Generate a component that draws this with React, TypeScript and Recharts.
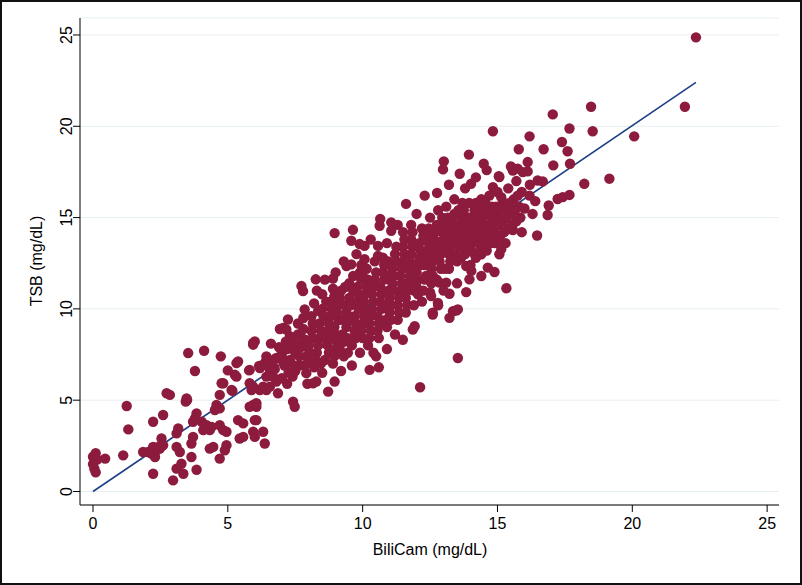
import { CartesianGrid, Label, Scatter, ScatterChart, XAxis, YAxis } from 'recharts'

const POINT_COLOUR = '#8c1b3e'
const LINE_COLOUR = '#1d3f86'
const GRID_COLOUR = '#e6eff0'
const FONT = '"Liberation Sans", Arial, Helvetica, sans-serif'

// BiliCam vs TSB readings, grouped by BiliCam range
const lowBand: [number, number][] = [
  [0.0, 1.9], [0.1, 2.1], [0.15, 1.75], [0.0, 1.5], [0.05, 1.25], [0.1, 1.05], [0.45, 1.8],
  [1.12, 1.98], [1.25, 4.68], [1.31, 3.4],
  [1.86, 2.16], [2.05, 2.16], [2.17, 2.07], [2.3, 1.89], [2.36, 2.26], [2.48, 2.35], [2.23, 2.44],
  [2.23, 0.97], [2.23, 3.82], [2.54, 2.9], [2.6, 2.53], [2.42, 2.44], [2.6, 4.19], [2.73, 5.38],
  [2.85, 5.29], [3.1, 2.44], [3.22, 2.16], [3.16, 3.45], [3.1, 3.18], [3.28, 1.52], [3.1, 1.25],
  [3.35, 0.97], [2.97, 0.61], [3.44, 4.92], [3.49, 5.01], [3.53, 7.58], [3.71, 2.99], [3.65, 2.63],
  [3.65, 1.89], [3.84, 1.19], [3.84, 4.28], [3.78, 4.0], [3.71, 3.82], [3.78, 6.6], [3.47, 5.1],
]

const band4to6: [number, number][] = [
  [4.12, 7.71], [4.74, 7.4], [4.03, 3.82], [4.21, 3.63], [4.4, 3.54], [4.09, 3.36], [4.33, 3.36],
  [4.7, 3.63], [4.83, 3.36], [4.95, 3.27], [4.33, 2.35], [4.46, 2.44], [4.95, 2.53], [4.89, 2.26],
  [4.7, 1.8], [4.58, 4.74], [4.7, 4.55], [4.52, 4.46], [4.83, 5.93], [4.77, 5.93], [4.7, 5.29],
  [5.0, 6.63], [5.26, 6.39], [5.32, 6.29], [5.38, 7.12], [5.32, 7.03], [5.14, 5.56], [5.17, 5.51],
  [5.79, 6.63], [5.81, 5.93], [5.88, 5.56], [5.94, 5.74], [5.94, 8.13], [6.0, 8.22], [5.94, 4.74],
  [6.06, 4.64], [5.38, 3.91], [6.0, 3.91], [5.44, 2.9], [5.94, 3.27], [6.0, 2.99], [5.57, 3.73],
  [5.57, 2.99], [5.81, 4.64], [5.94, 8.04], [5.81, 6.66],
]

const band6to8: [number, number][] = [
  [6.06, 4.83], [6.06, 3.91], [6.31, 3.27], [6.37, 2.63], [6.19, 5.56], [6.43, 5.56], [6.16, 6.88],
  [6.43, 7.4], [6.41, 7.12], [6.74, 7.25], [6.93, 8.9], [6.56, 6.66], [6.74, 6.7], [6.43, 6.29],
  [6.68, 6.29], [6.8, 6.02], [6.56, 5.74], [6.31, 5.74], [6.31, 6.94], [6.19, 6.76], [6.68, 6.85],
  [6.8, 7.31], [6.86, 5.38], [7.42, 4.92], [7.48, 4.64], [7.23, 9.42], [7.05, 8.96], [7.17, 8.87],
  [7.85, 9.97], [7.73, 11.25], [7.79, 10.97], [7.91, 6.48],
  [7.0, 7.5], [7.1, 6.9], [7.2, 7.8], [7.3, 7.2], [7.4, 8.2], [7.5, 7.6], [7.5, 6.6], [7.6, 8.6],
  [7.7, 7.9], [7.8, 8.9], [7.9, 7.4], [7.0, 6.2], [7.2, 5.9], [7.4, 6.3], [7.6, 9.2], [7.8, 9.5],
  [7.9, 8.3], [6.9, 7.9], [6.6, 8.1], [7.3, 8.5], [7.65, 6.9], [7.95, 5.9],
  [7.05, 7.1], [7.15, 8.2], [7.25, 6.5], [7.35, 7.9], [7.45, 6.9], [7.55, 8.0], [7.65, 7.4],
  [7.75, 8.4], [7.85, 6.9], [7.95, 7.9],
]

const band8to10: [number, number][] = [
  [8.26, 11.62], [8.9, 11.66], [8.96, 14.15], [9.64, 14.33], [8.16, 5.93], [8.28, 6.02], [8.72, 5.47],
  [8.96, 6.02], [9.4, 12.35], [9.58, 12.44], [9.58, 13.73], [9.89, 13.55], [9.77, 13.0],
  [8.0, 7.2], [8.0, 8.0], [8.1, 8.8], [8.1, 9.6], [8.2, 10.3], [8.2, 6.8], [8.3, 7.6], [8.4, 8.4],
  [8.4, 9.2], [8.5, 10.0], [8.5, 10.8], [8.5, 6.5], [8.6, 7.2], [8.7, 8.0], [8.7, 8.8], [8.8, 9.6],
  [8.8, 10.4], [8.9, 7.0], [8.9, 11.1], [9.0, 7.8], [9.0, 8.6], [9.1, 9.4], [9.1, 10.2], [9.2, 11.0],
  [9.2, 6.6], [9.3, 7.4], [9.3, 8.2], [9.4, 9.0], [9.4, 9.8], [9.5, 10.6], [9.5, 11.4], [9.6, 8.0],
  [9.6, 6.9], [9.7, 8.8], [9.7, 9.6], [9.8, 10.4], [9.8, 11.2], [9.9, 12.0], [9.9, 7.6], [10.0, 8.4],
  [10.0, 9.2], [8.3, 11.0], [8.6, 11.6], [9.0, 12.0], [9.3, 12.6],
  [8.05, 7.6], [8.15, 8.4], [8.15, 9.2], [8.25, 7.2], [8.35, 8.0], [8.35, 9.9], [8.45, 8.8],
  [8.45, 7.0], [8.55, 9.6], [8.6, 8.4], [8.65, 10.4], [8.75, 7.6], [8.75, 9.2], [8.85, 8.4],
  [8.85, 10.0], [8.95, 9.0], [8.95, 10.7], [8.95, 7.4], [9.05, 8.2], [9.05, 9.8], [9.15, 10.6],
  [9.15, 7.8], [9.25, 8.6], [9.25, 9.4], [9.35, 10.2], [9.35, 11.2], [9.45, 8.4], [9.45, 7.6],
  [9.55, 9.4], [9.55, 10.2], [9.65, 11.0], [9.65, 11.8], [9.75, 8.4], [9.75, 9.2], [9.85, 10.0],
  [9.85, 10.8], [9.95, 11.6], [9.95, 8.8], [9.95, 12.4],
]

const band10to12: [number, number][] = [
  [10.65, 14.92], [10.63, 14.55], [11.06, 14.74], [11.06, 14.28], [10.07, 13.45], [10.57, 13.45],
  [10.57, 12.9], [10.07, 12.72], [10.26, 6.66], [11.61, 15.75], [11.49, 8.31], [11.86, 8.87],
  [11.93, 9.05],
  [10.1, 10.0], [10.1, 10.8], [10.2, 11.6], [10.2, 8.0], [10.3, 8.8], [10.3, 9.6], [10.4, 10.4],
  [10.4, 11.2], [10.5, 12.0], [10.5, 7.4], [10.6, 8.4], [10.6, 9.2], [10.7, 10.0], [10.7, 10.8],
  [10.8, 11.6], [10.8, 12.4], [10.9, 9.0], [10.9, 7.8], [11.0, 9.8], [11.0, 10.6], [11.1, 11.4],
  [11.1, 12.2], [11.2, 13.0], [11.2, 8.6], [11.3, 9.4], [11.3, 10.2], [11.4, 11.0], [11.4, 11.8],
  [11.5, 12.6], [11.5, 13.4], [11.6, 9.8], [11.6, 10.6], [11.7, 11.4], [11.7, 12.2], [11.8, 13.0],
  [11.8, 13.8], [11.9, 10.2], [11.9, 11.0], [10.3, 13.8], [10.9, 13.6], [11.5, 14.2], [10.0, 11.8],
  [11.3, 14.6], [11.8, 14.6], [10.6, 6.8], [10.4, 7.6],
  [10.05, 9.6], [10.05, 10.4], [10.15, 11.2], [10.15, 12.2], [10.25, 8.4], [10.25, 9.2], [10.35, 10.0],
  [10.35, 10.8], [10.45, 11.6], [10.45, 12.6], [10.55, 8.8], [10.55, 9.6], [10.65, 10.4], [10.65, 11.2],
  [10.75, 12.0], [10.75, 12.8], [10.85, 9.4], [10.85, 10.2], [10.95, 11.0], [10.95, 11.8], [10.95, 12.6],
  [11.05, 9.4], [11.05, 10.2], [11.15, 11.0], [11.15, 11.8], [11.25, 12.6], [11.25, 13.4], [11.35, 9.8],
  [11.35, 10.6], [11.45, 11.4], [11.45, 12.2], [11.55, 13.0], [11.55, 13.8], [11.65, 10.2], [11.65, 11.0],
  [11.75, 11.8], [11.75, 12.6], [11.85, 13.4], [11.85, 14.2], [11.95, 11.4], [11.95, 12.4],
]

const band12to14: [number, number][] = [
  [12.13, 5.71], [13.53, 7.31], [12.6, 9.69], [12.6, 9.79], [13.22, 9.51], [13.47, 9.91], [13.35, 9.87],
  [13.53, 9.97], [13.22, 10.83], [13.84, 10.92], [12.79, 10.33], [12.54, 10.7], [13.96, 11.62],
  [14.03, 12.08], [13.84, 12.35], [12.85, 11.44], [13.1, 11.44], [12.76, 16.35], [13.01, 18.08],
  [12.98, 17.64], [13.94, 18.45],
  [12.0, 11.2], [12.0, 12.0], [12.1, 12.8], [12.1, 13.6], [12.2, 10.4], [12.2, 14.4], [12.3, 11.6],
  [12.3, 12.4], [12.4, 13.2], [12.4, 14.0], [12.5, 10.9], [12.5, 15.0], [12.6, 11.8], [12.6, 12.6],
  [12.7, 13.4], [12.7, 14.2], [12.8, 15.4], [12.9, 12.2], [12.9, 13.0], [13.0, 13.8], [13.0, 14.6],
  [13.1, 15.6], [13.2, 12.2], [13.2, 13.0], [13.3, 13.8], [13.3, 14.6], [13.4, 15.2], [13.4, 16.0],
  [13.5, 12.6], [13.5, 11.4], [13.6, 13.4], [13.6, 14.2], [13.7, 15.0], [13.7, 15.8], [13.8, 13.0],
  [13.8, 16.6], [13.9, 13.8], [13.9, 14.6], [12.3, 16.2], [12.0, 15.2], [13.2, 16.8], [13.6, 17.4],
  [12.8, 10.2], [13.0, 11.0],
  [12.05, 10.8], [12.05, 11.6], [12.15, 12.4], [12.15, 13.2], [12.25, 14.0], [12.25, 11.0], [12.35, 11.8],
  [12.35, 12.8], [12.45, 13.6], [12.45, 14.4], [12.55, 11.4], [12.55, 12.2], [12.65, 13.0], [12.65, 13.8],
  [12.75, 14.6], [12.75, 11.6], [12.85, 12.6], [12.85, 13.4], [12.95, 14.2], [12.95, 15.0],
  [13.05, 12.2], [13.05, 13.4], [13.15, 14.2], [13.15, 15.0], [13.25, 12.6], [13.25, 13.4], [13.35, 14.2],
  [13.35, 15.0], [13.45, 13.0], [13.45, 13.8], [13.55, 14.6], [13.55, 15.4], [13.65, 12.8], [13.65, 13.8],
  [13.75, 14.6], [13.75, 15.4], [13.85, 13.4], [13.85, 14.2], [13.95, 15.0], [13.95, 15.8],
]

const band14to16: [number, number][] = [
  [14.02, 16.85], [14.49, 17.95], [15.07, 17.22], [14.83, 16.67], [15.94, 17.49], [15.79, 18.74],
  [14.83, 19.73], [14.64, 12.26], [14.89, 12.02], [15.33, 11.13], [15.07, 12.99], [15.14, 13.27],
  [14.4, 12.99], [15.57, 14.32], [15.05, 17.27], [15.14, 16.12], [15.2, 15.84],
  [14.0, 13.4], [14.1, 14.2], [14.1, 15.0], [14.2, 15.8], [14.2, 12.8], [14.3, 13.6], [14.3, 14.4],
  [14.4, 15.2], [14.4, 16.0], [14.5, 13.8], [14.5, 14.6], [14.6, 15.4], [14.6, 13.2], [14.7, 14.0],
  [14.7, 16.2], [14.8, 14.8], [14.8, 15.6], [14.9, 13.6], [14.9, 14.4], [15.0, 15.2], [15.0, 16.4],
  [15.1, 14.0], [15.2, 14.8], [15.3, 15.6], [15.3, 13.6], [15.4, 14.4], [15.4, 16.6], [15.5, 15.2],
  [15.6, 16.0], [15.7, 14.8], [15.7, 17.0], [15.8, 15.6], [15.9, 16.4], [15.9, 14.2], [14.2, 17.2],
  [14.6, 17.6], [15.5, 17.8], [14.4, 11.8], [14.0, 12.4],
  [14.05, 13.8], [14.05, 14.6], [14.15, 15.4], [14.15, 13.0], [14.25, 14.0], [14.25, 14.8], [14.35, 15.6],
  [14.35, 13.2], [14.45, 14.2], [14.45, 15.0], [14.55, 15.8], [14.55, 13.4], [14.65, 14.4], [14.65, 15.2],
  [14.75, 13.6], [14.75, 14.6], [14.85, 15.4], [14.85, 14.0], [14.95, 14.8], [14.95, 15.6],
  [15.05, 13.8], [15.05, 14.6], [15.15, 15.4], [15.25, 14.2], [15.35, 15.0], [15.45, 15.8], [15.55, 14.6],
  [15.65, 15.4], [15.75, 16.2], [15.85, 15.0],
]

const band16up: [number, number][] = [
  [16.47, 14.02], [16.19, 19.45], [16.71, 18.74], [17.05, 20.65], [17.67, 19.88], [18.47, 21.07],
  [18.53, 19.73], [20.07, 19.45], [21.95, 21.07], [22.36, 24.87], [19.15, 17.13], [18.22, 16.85],
  [17.39, 19.14], [17.6, 18.63], [17.07, 17.86], [17.69, 17.95], [16.12, 18.04], [16.12, 17.53],
  [15.57, 17.58], [15.75, 17.68], [16.49, 17.03], [16.68, 16.98], [17.23, 16.02], [17.42, 16.12],
  [17.67, 16.24], [16.9, 15.66], [16.86, 15.14], [16.19, 16.2], [16.0, 15.5], [16.2, 16.8],
  [16.4, 15.9], [16.3, 15.2],
]

// fitted line endpoints (BiliCam, TSB)
const fitBiliCam = [0, 22.36]
const fitTsb = [0, 22.4]

const axisTicks = [0, 5, 10, 15, 20, 25]

const points = [...lowBand, ...band4to6, ...band6to8, ...band8to10, ...band10to12, ...band12to14, ...band14to16, ...band16up].map(
  ([x, y]) => ({ x, y }),
)
const fitLine = fitBiliCam.map((x, i) => ({ x, y: fitTsb[i] }))

function YTick(props: any) {
  const { y, payload } = props
  return (
    <text
      x={65}
      y={y}
      transform={`rotate(-90 65 ${y})`}
      textAnchor="middle"
      dominantBaseline="central"
      fontFamily={FONT}
      fontSize={16}
      fill="#000"
    >
      {payload.value}
    </text>
  )
}

function XTick(props: any) {
  const { x, payload } = props
  return (
    <text x={x} y={521} textAnchor="middle" dominantBaseline="central" fontFamily={FONT} fontSize={16} fill="#000">
      {payload.value}
    </text>
  )
}

export default function App() {
  return (
    <div
      style={{
        width: 802,
        height: 585,
        boxSizing: 'border-box',
        border: '2px solid #111',
        background: '#fff',
      }}
    >
      <style>{'body { margin: 0; }'}</style>
      <ScatterChart width={798} height={581} margin={{ top: 16, right: 21, bottom: 0, left: 0 }}>
        <CartesianGrid vertical={false} stroke={GRID_COLOUR} strokeWidth={1} />
        <XAxis
          type="number"
          dataKey="x"
          domain={[-0.482, 25.44]}
          ticks={axisTicks}
          allowDataOverflow
          height={78}
          tickSize={7}
          stroke="#000"
          tick={<XTick />}
        >
          <Label
            content={() => (
              <text x={428} y={547} textAnchor="middle" dominantBaseline="central" fontFamily={FONT} fontSize={16} fill="#000">
                BiliCam (mg/dL)
              </text>
            )}
          />
        </XAxis>
        <YAxis
          type="number"
          dataKey="y"
          domain={[-0.74, 25.93]}
          ticks={axisTicks}
          allowDataOverflow
          width={78}
          tickSize={7}
          stroke="#000"
          tick={<YTick />}
        >
          <Label
            content={() => (
              <text
                x={34}
                y={259}
                transform="rotate(-90 34 259)"
                textAnchor="middle"
                dominantBaseline="central"
                fontFamily={FONT}
                fontSize={16}
                fill="#000"
              >
                TSB (mg/dL)
              </text>
            )}
          />
        </YAxis>
        <Scatter
          data={fitLine}
          line={{ stroke: LINE_COLOUR, strokeWidth: 1.6 }}
          shape={() => <g />}
          isAnimationActive={false}
        />
        <Scatter
          data={points}
          fill={POINT_COLOUR}
          shape={(p: any) => <circle cx={p.cx} cy={p.cy} r={5.2} fill={POINT_COLOUR} />}
          isAnimationActive={false}
        />
      </ScatterChart>
    </div>
  )
}
